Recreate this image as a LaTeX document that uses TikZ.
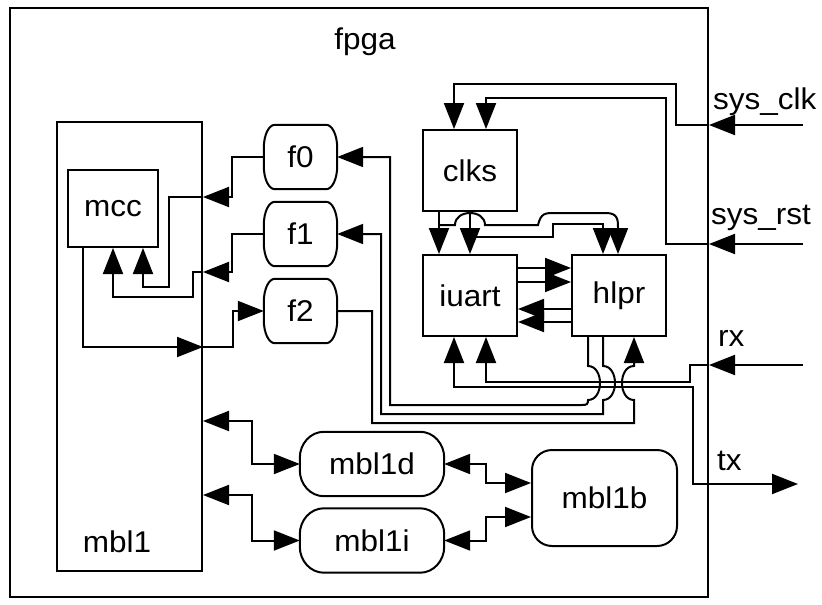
\documentclass[tikz,border=0pt]{standalone}
\usepackage{fontspec}
\setmainfont{Liberation Sans}[FakeStretch=1.05]
\usetikzlibrary{arrows.meta,calc}
\newcommand\myebox[3]{%
  \draw[line width=2pt] ($(#1.north west)+(#2,0)$) -- ($(#1.north east)+(-#2,0)$)
    .. controls ($(#1.north east)+(-0.45*#2,0)$) and ($(#1.north east)+(0,0.45*#3)$) .. ($(#1.north east)+(0,#3)$)
    -- ($(#1.south east)+(0,-#3)$)
    .. controls ($(#1.south east)+(0,-0.45*#3)$) and ($(#1.south east)+(-0.45*#2,0)$) .. ($(#1.south east)+(-#2,0)$)
    -- ($(#1.south west)+(#2,0)$)
    .. controls ($(#1.south west)+(0.45*#2,0)$) and ($(#1.south west)+(0,-0.45*#3)$) .. ($(#1.south west)+(0,-#3)$)
    -- ($(#1.north west)+(0,#3)$)
    .. controls ($(#1.north west)+(0,0.45*#3)$) and ($(#1.north west)+(0.45*#2,0)$) .. cycle;}
\begin{document}
\begin{tikzpicture}[x=1pt,y=-1pt,
  wire/.style={line width=2pt},
  arr/.style={wire,-{Triangle[length=26pt,width=20pt]}},
  barr/.style={wire,{Triangle[length=26pt,width=20pt]}-{Triangle[length=26pt,width=20pt]}},
  txt/.style={inner sep=0pt,font=\fontsize{30}{36}\selectfont},
  blk/.style={txt,draw,line width=2pt},
  fblk/.style={txt,minimum width=73pt,minimum height=64pt},
  pill/.style={txt,minimum width=144pt,minimum height=64pt},
]
\useasboundingbox (0,0) rectangle (822,605);
% blocks
\node[blk,minimum width=698pt,minimum height=589pt] (fpga) at (359,302.5) {};
\node[txt] (fpgalbl) at (365,42) {fpga};
\node[blk,minimum width=145pt,minimum height=449pt] (mbl1) at (129.5,346.5) {};
\node[txt] (mbl1lbl) at (117,542) {mbl1};
\node[blk,minimum width=90pt,minimum height=77pt] (mcc) at (113,208.5) {mcc};
\node[fblk] (f0) at (300.5,157) {f0};
\node[fblk] (f1) at (300.5,234) {f1};
\node[fblk] (f2) at (300.5,311) {f2};
\myebox{f0}{11}{23}
\myebox{f1}{11}{23}
\myebox{f2}{11}{23}
\node[blk,minimum width=94pt,minimum height=81pt] (clks) at (470,170.5) {clks};
\node[blk,minimum width=94pt,minimum height=81pt] (iuart) at (470,295.5) {iuart};
\node[blk,minimum width=94pt,minimum height=81pt] (hlpr) at (619,295.5) {hlpr};
\node[pill] (mbl1d) at (372,464) {mbl1d};
\node[pill] (mbl1i) at (372,540.5) {mbl1i};
\myebox{mbl1d}{24}{26}
\myebox{mbl1i}{24}{26}
\node[blk,rounded corners=20pt,minimum width=145pt,minimum height=96pt] (mbl1b) at (604.5,498) {mbl1b};
% external pins
\coordinate (sysclk) at (803,125);
\coordinate (sysrst) at (803,244);
\coordinate (rx) at (803,365);
\coordinate (tx) at (798,484);
\node[txt,anchor=west] (sysclklbl) at (713,102) {sys\_clk};
\node[txt,anchor=west] (sysrstlbl) at (711,218) {sys\_rst};
\node[txt,anchor=west] (rxlbl) at (718,338) {rx};
\node[txt,anchor=west] (txlbl) at (717,461) {tx};
% sys_clk / sys_rst
\draw[arr] (sysclk) -- (fpga.east |- sysclk);
\draw[arr] (fpga.east |- sysclk) -| (676,84) -| (clks.north -| 454,0);
\draw[arr] (sysrst) -- (fpga.east |- sysrst);
\draw[arr] (fpga.east |- sysrst) -| (666,98) -| (clks.north -| 486,0);
% rx / tx
\draw[arr] (rx) -- (fpga.east |- rx);
\draw[arr] (fpga.east |- rx) -| (690,382) -| (iuart.south -| 486,0);
\draw[barr] (iuart.south -| 454,0) |- (693,387) |- (tx);
% clks outputs
\draw[arr] (clks.south -| 439,0) -- (iuart.north -| 439,0);
\draw[arr] (clks.south -| 470,0) -- (iuart.north -| 470,0);
\draw[arr] (439,225) -- (455,225) .. controls (455,209) and (485,209) .. (485,225) -- (538,225)
  .. controls (541,213) and (545,213) .. (555,213) -- (606,213)
  .. controls (618,213) and (618,220) .. (618,228) -- (hlpr.north -| 618,0);
\draw[arr] (470,237) -- (553,237) -- (553,224) -- (603,224) -- (hlpr.north -| 603,0);
% iuart <-> hlpr
\draw[arr] (iuart.east |- 0,268) -- (hlpr.west |- 0,268);
\draw[arr] (iuart.east |- 0,282) -- (hlpr.west |- 0,282);
\draw[arr] (hlpr.west |- 0,309) -- (iuart.east |- 0,309);
\draw[arr] (hlpr.west |- 0,322) -- (iuart.east |- 0,322);
% hlpr <-> f
\draw[arr] (hlpr.south -| 588,0) -- (588,366) .. controls (604,366) and (604,400) .. (588,400)
  .. controls (588,404) and (587,405) .. (582,405) -- (390,405) |- (f0.east);
\draw[arr] (hlpr.south -| 603,0) -- (603,366) .. controls (619,366) and (619,400) .. (603,400)
  -- (603,414) -- (381,414) |- (f1.east);
\draw[arr] (f2.east) -| (372,423) -- (634,423) -- (634,400)
  .. controls (618,400) and (618,366) .. (634,366) -- (hlpr.south -| 634,0);
% mcc / f
\coordinate (p0) at (mbl1.east |- 0,197);
\coordinate (p1) at (mbl1.east |- 0,272);
\coordinate (p2) at (mbl1.east |- 0,347);
\draw[arr] (f0.west) -| (232,197) -- (p0);
\draw[arr] (p0) -| (169,287) -| (mcc.south -| 143,0);
\draw[arr] (f1.west) -| (232,272) -- (p1);
\draw[arr] (p1) -| (193,297) -| (mcc.south -| 113,0);
\draw[arr] (mcc.south -| 83,0) |- (p2);
\draw[arr] (p2) -| (233,311) -- (f2.west);
% mbl1 bus
\coordinate (p3) at (mbl1.east |- 0,421);
\coordinate (p4) at (mbl1.east |- 0,495);
\draw[barr] (p3) -| (252,0 |- mbl1d.west) -- (mbl1d.west);
\draw[barr] (p4) -| (252,0 |- mbl1i.west) -- (mbl1i.west);
\draw[barr] (mbl1d.east) -| (486,483) -- (mbl1b.west |- 0,483);
\draw[barr] (mbl1i.east) -| (486,517) -- (mbl1b.west |- 0,517);
\end{tikzpicture}
\end{document}
